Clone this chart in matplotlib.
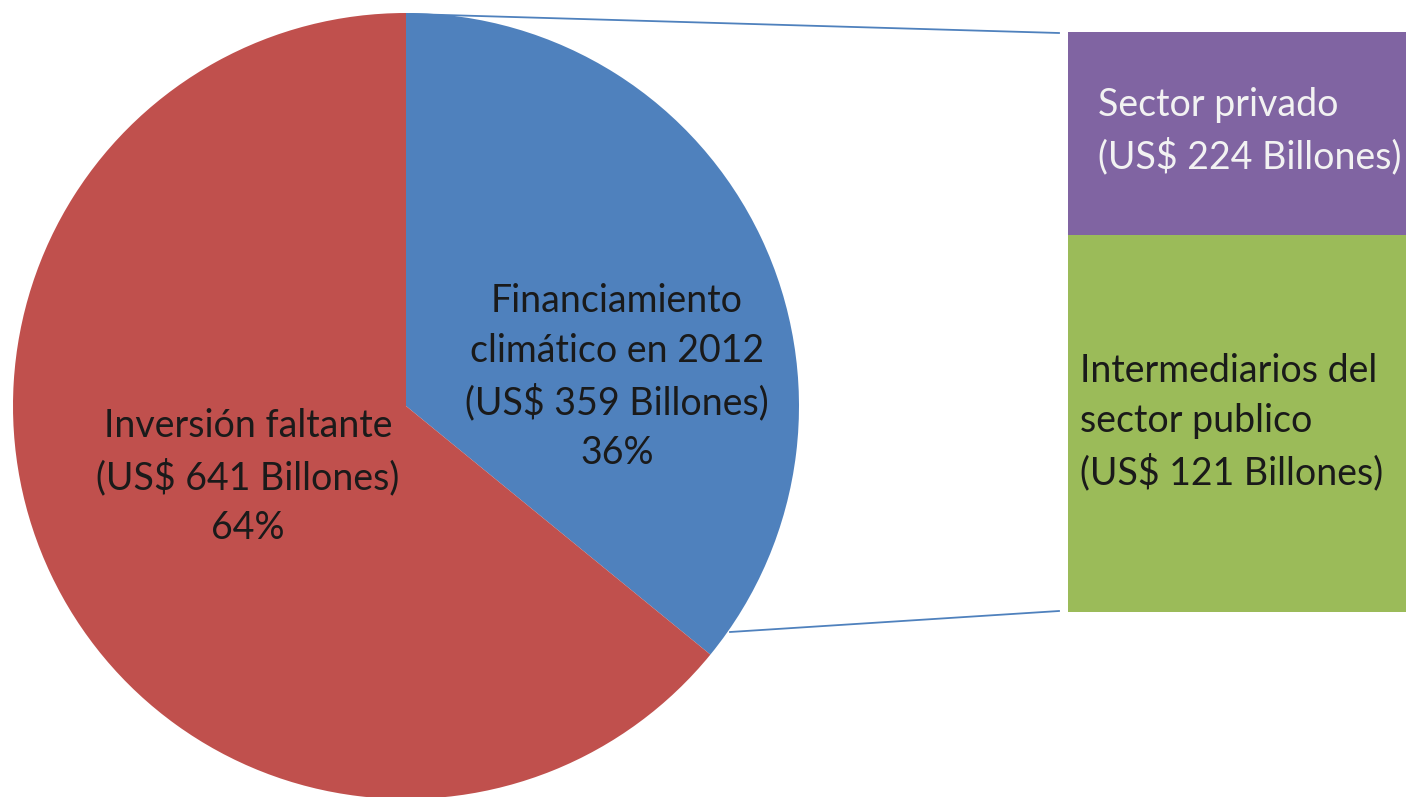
import matplotlib
matplotlib.use("Agg")
import matplotlib.pyplot as plt

# ---- data ----
pie_labels = ["Financiamiento\nclimático en 2012\n(US$ 359 Billones)\n36%",
              "Inversión faltante\n(US$ 641 Billones)\n64%"]
pie_values = [359, 641]
pie_colors = ["#4F81BD", "#C0504D"]

bar_labels = ["Intermediarios del\nsector publico\n(US$ 121 Billones)",
              "Sector privado\n(US$ 224 Billones)"]
bar_values = [224, 121]          # segment sizes as drawn (bottom, top)
bar_colors = ["#9BBB59", "#8064A2"]
bar_text_colors = ["#1a1a1a", "#F2F2F2"]

W, H = 1406, 797
fig = plt.figure(figsize=(W / 100, H / 100), dpi=100)
ax = fig.add_axes([0, 0, 1, 1])

cx, cy, r = 406, 797 - 406, 393
ax.pie(pie_values, colors=pie_colors, startangle=90, counterclock=False,
       center=(cx, cy), radius=r, wedgeprops=dict(linewidth=0))
ax.set_xlim(0, W)
ax.set_ylim(0, H)
ax.set_aspect("auto")
ax.axis("off")

font = "Lato"
fs = 27
ls = 1.48
ax.text(617, 797 - 377, pie_labels[0], ha="center", va="center",
        fontsize=fs, family=font, color="#1a1a1a", linespacing=ls)
ax.text(248, 797 - 477, pie_labels[1], ha="center", va="center",
        fontsize=fs, family=font, color="#1a1a1a", linespacing=ls)

# bar of pie
bl, br, bb, bt = 1068, 1410, 797 - 612, 797 - 32
bax = fig.add_axes([bl / W, bb / H, (br - bl) / W, (bt - bb) / H])
total = sum(bar_values)
bottom = 0
for v, c in zip(bar_values, bar_colors):
    bax.bar(0, v, width=1, bottom=bottom, color=c, linewidth=0)
    bottom += v
bax.set_xlim(-0.5, 0.5)
bax.set_ylim(0, total)
bax.axis("off")

bax.text(0.035, 1 - (422 - 32) / 580, bar_labels[0], transform=bax.transAxes,
         ha="left", va="center", fontsize=fs, family=font,
         color=bar_text_colors[0], linespacing=ls)
bax.text(0.088, 1 - (131 - 32) / 580, bar_labels[1], transform=bax.transAxes,
         ha="left", va="center", fontsize=fs, family=font,
         color=bar_text_colors[1], linespacing=ls)

# connector lines
ax.plot([410, 1059], [797 - 14, 797 - 33], color="#4F81BD", lw=1.3)
ax.plot([730, 1059], [797 - 632, 797 - 611], color="#4F81BD", lw=1.3)

fig.savefig("out.png", dpi=100)
